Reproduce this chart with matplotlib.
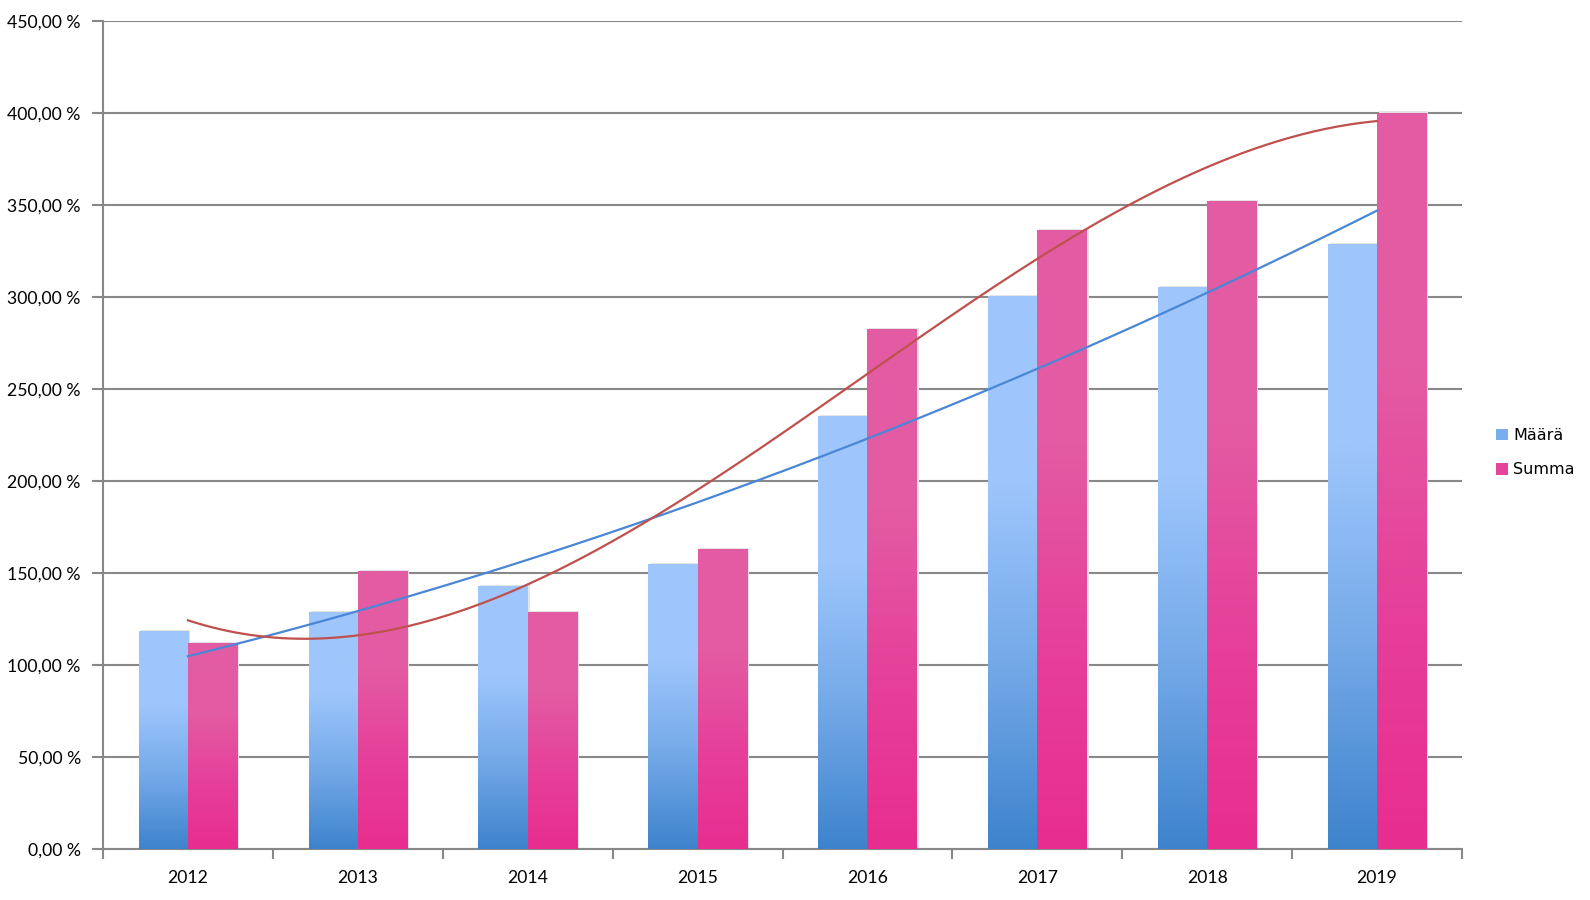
import numpy as np
import matplotlib
matplotlib.use("Agg")
import matplotlib.pyplot as plt
from matplotlib.colors import LinearSegmentedColormap
from matplotlib.patches import Patch

years = ["2012", "2013", "2014", "2015", "2016", "2017", "2018", "2019"]
maara = [118.4, 128.3, 142.6, 154.8, 235.2, 300.2, 305.1, 328.3]
summa = [111.8, 150.9, 128.3, 163.0, 282.5, 336.0, 352.0, 400.0]

plt.rcParams['font.family'] = ['Lato', 'DejaVu Sans']

fig = plt.figure(figsize=(15.9, 9), dpi=100)
ax = fig.add_axes([0.0648, 0.0567, 0.8547, 0.92])

x = np.arange(len(years))
w = 0.29
cm_blue = LinearSegmentedColormap.from_list("b", ["#3d83cc", "#74a9e8", "#9ec6fc", "#9ec6fc"])
cm_pink = LinearSegmentedColormap.from_list("p", ["#e82d8f", "#e6409a", "#e35ca3", "#e35ca3"])
grad = np.linspace(0, 1, 256).reshape(-1, 1)

for vals, off, cmap in [(maara, -w / 2, cm_blue), (summa, w / 2, cm_pink)]:
    bars = ax.bar(x + off, vals, w, color="none", edgecolor="none", zorder=3)
    for b in bars:
        x0, h = b.get_x(), b.get_height()
        # faint shadow on the right
        ax.add_patch(plt.Rectangle((x0 + 0.012, 0), w, h + 0.8, color="#e4e4e4", zorder=2, lw=0))
        ax.imshow(grad, cmap=cmap, origin="lower", aspect="auto",
                  extent=[x0, x0 + w, 0, h], zorder=3)

# trend lines (polynomial, order 2 and 3)
xs = np.linspace(0, 7, 300)
bfit = np.polyfit(x, maara, 2)
ax.plot(xs, np.polyval(bfit, xs), color="#4a86d6", lw=1.6, zorder=4)
pfit = np.polyfit(x, summa, 3)
ax.plot(xs, np.polyval(pfit, xs), color="#c0504d", lw=1.6, zorder=4)

ax.set_xlim(-0.5, 7.5)
ax.set_ylim(0, 450)
ax.set_yticks(np.arange(0, 451, 50))
ax.set_yticklabels([f"{v:.2f}".replace(".", ",") + " %" for v in np.arange(0, 451, 50)])
ax.yaxis.grid(True, color="#888888", lw=1.5, zorder=0)
ax.set_axisbelow(True)

ax.set_xticks(x)
ax.set_xticklabels(years)
ax.set_xticks(np.arange(-0.5, 8, 1), minor=True)
ax.tick_params(axis="x", which="major", length=0, pad=15, labelsize=12.7)
ax.tick_params(axis="x", which="minor", length=7, width=1.5, color="#888888", direction="out")
ax.tick_params(axis="y", length=8, width=1.5, color="#888888", labelsize=12.7, pad=8)

for s in ["top", "right"]:
    ax.spines[s].set_visible(False)
for s in ["left", "bottom"]:
    ax.spines[s].set_color("#888888")
    ax.spines[s].set_linewidth(1.5)

handles = [Patch(facecolor="#78aeee", edgecolor="none", label="Määrä"),
           Patch(facecolor="#e6449b", edgecolor="none", label="Summa")]
fig.legend(handles=handles, loc="center left", bbox_to_anchor=(0.937, 0.497),
           frameon=False, prop={"family": "DejaVu Sans", "size": 11.5},
           handlelength=0.75, handleheight=0.75,
           handletextpad=0.3, labelspacing=1.2, borderaxespad=0)

fig.savefig("out.png", dpi=100)
